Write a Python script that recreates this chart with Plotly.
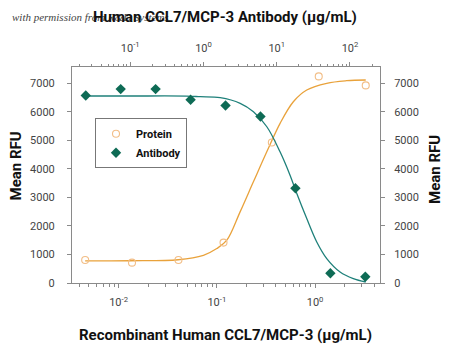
import plotly.graph_objects as go

# ---- data ----
protein_conc = [0.00457, 0.0137, 0.0407, 0.117, 0.363, 1.09, 3.28]        # bottom axis, ug/mL
protein_rfu = [805, 713, 805, 1415, 4925, 7240, 6925]

antibody_conc = [0.0247, 0.0741, 0.222, 0.667, 2.0, 6.0, 18.0, 54.0, 162.0]  # top axis, ug/mL
antibody_rfu = [6570, 6795, 6795, 6420, 6220, 5835, 3320, 340, 220]

# fitted curves
protein_fit_x = [0.00457, 0.0131, 0.0404, 0.0731, 0.1, 0.1265, 0.1726, 0.2357,
                 0.3226, 0.4406, 0.601, 0.823, 1.315, 2.10, 3.28]
protein_fit_y = [772, 780, 815, 972, 1207, 1500, 2492, 3545,
                 4598, 5595, 6353, 6764, 7000, 7090, 7115]

antibody_fit_x = [0.0243, 0.1, 0.594, 0.902, 1.69, 3.17, 4.81, 7.33, 11.1,
                  15.2, 18.8, 25.7, 35.2, 48.2, 73.3, 111, 164]
antibody_fit_y = [6553, 6553, 6550, 6529, 6494, 6297, 6002, 5476, 4598,
                  3780, 3138, 2260, 1439, 856, 386, 154, 35]

bottom_tickvals = [0.01, 0.1, 1]
bottom_ticktext = ["10<sup>-2</sup>", "10<sup>-1</sup>", "10<sup>0</sup>"]
top_tickvals = [0.1, 1, 10, 100]
top_ticktext = ["10<sup>-1</sup>", "10<sup>0</sup>", "10<sup>1</sup>", "10<sup>2</sup>"]
y_tickvals = [0, 1000, 2000, 3000, 4000, 5000, 6000, 7000]

FONT = "Roboto, Liberation Sans, sans-serif"
ORANGE_LINE = "#E9A23B"
ORANGE_MARK = "#F2BE87"
GREEN_LINE = "#1E807A"
GREEN_MARK = "#0E6B55"
AXIS = "#8a8a8a"
TICKFONT = dict(family=FONT, size=11, color="#444444")

fig = go.Figure()

fig.add_trace(go.Scatter(x=protein_fit_x, y=protein_fit_y, mode="lines",
                         line=dict(color=ORANGE_LINE, width=1.3, shape="spline"),
                         showlegend=False, hoverinfo="skip", xaxis="x", yaxis="y"))
fig.add_trace(go.Scatter(x=antibody_fit_x, y=antibody_fit_y, mode="lines",
                         line=dict(color=GREEN_LINE, width=1.3, shape="spline"),
                         showlegend=False, hoverinfo="skip", xaxis="x2", yaxis="y2"))
fig.add_trace(go.Scatter(x=protein_conc, y=protein_rfu, mode="markers", name="Protein",
                         marker=dict(symbol="circle-open", size=7, color=ORANGE_MARK,
                                     line=dict(width=1.1, color=ORANGE_MARK)),
                         xaxis="x", yaxis="y"))
fig.add_trace(go.Scatter(x=antibody_conc, y=antibody_rfu, mode="markers", name="Antibody",
                         marker=dict(symbol="diamond", size=8, color=GREEN_MARK),
                         xaxis="x2", yaxis="y2"))

common_x = dict(type="log", showgrid=False, zeroline=False, showline=True,
                linecolor=AXIS, linewidth=1, ticks="outside", ticklen=4,
                tickcolor=AXIS, tickfont=TICKFONT, tickmode="array",
                minor=dict(ticks="outside", ticklen=2.5, tickcolor=AXIS, dtick="D1",
                           showgrid=False))
common_y = dict(range=[0, 7570], showgrid=False, zeroline=False, showline=True,
                linecolor=AXIS, linewidth=1, ticks="outside", ticklen=4,
                tickcolor=AXIS, tickfont=TICKFONT, tickmode="array",
                tickvals=y_tickvals, ticktext=[str(v) for v in y_tickvals])

fig.update_layout(
    width=450, height=349, autosize=False,
    margin=dict(l=72, r=70, t=67, b=66),
    paper_bgcolor="white", plot_bgcolor="white",
    xaxis=dict(common_x, range=[-2.474, 0.661], tickvals=bottom_tickvals,
               ticktext=bottom_ticktext, side="bottom", anchor="y",
               ticklabelstandoff=5),
    xaxis2=dict(common_x, range=[-1.795, 2.41], tickvals=top_tickvals,
                ticktext=top_ticktext, side="top", overlaying="x", anchor="y",
                ticklabelstandoff=6),
    yaxis=dict(common_y, side="left", anchor="x", ticklabelstandoff=10),
    yaxis2=dict(common_y, side="right", overlaying="y", anchor="x", ticklabelstandoff=7),
    legend=dict(x=0.0747, y=0.7625, xanchor="left", yanchor="top",
                bordercolor="#777777", borderwidth=1, bgcolor="white",
                font=dict(family=FONT, size=11, color="#111111", weight="bold"),
                tracegroupgap=2),
    showlegend=True,
)

title_font = dict(family=FONT, size=15, color="#111111", weight="bold")
fig.add_annotation(text="with permission from R&amp;D Systems", xref="paper", yref="paper",
                   x=(10 - 72) / 308, y=(283 - 17) / 216, xanchor="left", yanchor="middle",
                   showarrow=False,
                   font=dict(family="Liberation Serif, DejaVu Serif, serif", size=11,
                             color="#444444", style="italic"))
fig.add_annotation(text="Human CCL7/MCP-3 Antibody (µg/mL)", xref="paper", yref="paper",
                   x=(225 - 72) / 308, y=(283 - 17) / 216, xanchor="center", yanchor="middle",
                   showarrow=False, font=title_font)
fig.add_annotation(text="Recombinant Human CCL7/MCP-3 (µg/mL)", xref="paper", yref="paper",
                   x=(225 - 72) / 308, y=(283 - 335) / 216, xanchor="center", yanchor="middle",
                   showarrow=False, font=title_font)
fig.add_annotation(text="Mean RFU", xref="paper", yref="paper",
                   x=(15.5 - 72) / 308, y=(283 - 166) / 216, xanchor="center", yanchor="middle",
                   textangle=-90, showarrow=False, font=title_font)
fig.add_annotation(text="Mean RFU", xref="paper", yref="paper",
                   x=(435 - 72) / 308, y=(283 - 170) / 216, xanchor="center", yanchor="middle",
                   textangle=-90, showarrow=False, font=title_font)

fig.write_html("out.html")
